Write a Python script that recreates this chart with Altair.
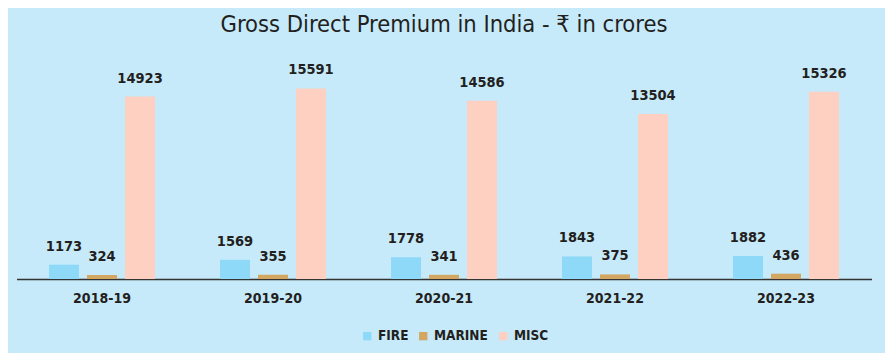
import altair as alt
import pandas as pd

years = ["2018-19", "2019-20", "2020-21", "2021-22", "2022-23"]
series = ["FIRE", "MARINE", "MISC"]
fire = [1173, 1569, 1778, 1843, 1882]
marine = [324, 355, 341, 375, 436]
misc = [14923, 15591, 14586, 13504, 15326]
colors = ["#8ED8F8", "#D3A762", "#FDD0C1"]

rows = []
for i, y in enumerate(years):
    for s, vals in zip(series, [fire, marine, misc]):
        rows.append({"year": y, "series": s, "value": vals[i]})
df = pd.DataFrame(rows)

FONT = "DejaVu Sans Condensed, Liberation Sans Narrow, Arial Narrow, sans-serif"
TXT = "#231F20"

x = alt.X("year:N", sort=years, title=None,
          scale=alt.Scale(paddingInner=0.3333, paddingOuter=0.1667),
          axis=alt.Axis(labelAngle=0, labelFont=FONT, labelFontSize=14, labelFontWeight="bold",
                        labelColor=TXT, ticks=False, domainColor="#333333", domainWidth=1.5,
                        labelPadding=12))
xo = alt.XOffset("series:N", sort=series,
                 scale=alt.Scale(paddingInner=0.21, paddingOuter=0.105))
y = alt.Y("value:Q", scale=alt.Scale(domain=[0, 18000], nice=False), axis=None)

base = alt.Chart(df)
bars = base.mark_bar().encode(
    x=x, xOffset=xo, y=y,
    color=alt.Color("series:N", sort=series,
                    scale=alt.Scale(domain=series, range=colors),
                    legend=alt.Legend(title=None, orient="none", direction="horizontal",
                                      legendX=344, legendY=270,
                                      symbolType="square", symbolSize=70, symbolStrokeWidth=0,
                                      labelFont=FONT, labelFontSize=13.5, labelFontWeight="bold",
                                      labelColor=TXT, labelOffset=4, columnPadding=8)),
)
labels = base.mark_text(baseline="bottom", dy=-11, font=FONT, fontSize=14.5,
                        fontWeight="bold", color=TXT).encode(
    x=x, xOffset=xo, y=y, text=alt.Text("value:Q", format="d"))

chart = (bars + labels).properties(
    width=855, height=220,
    title=alt.TitleParams("Gross Direct Premium in India - ₹ in crores", font=FONT,
                          fontSize=23.5, fontWeight="normal", color=TXT, anchor="middle", offset=23),
    autosize=alt.AutoSizeParams(type="none"),
    padding={"left": 8.5, "top": 51, "right": 13.5, "bottom": 74},
    background="#C6EAF9",
).configure_view(stroke=None)

chart.save("out.html", embed_options={"renderer": "svg", "actions": False})
